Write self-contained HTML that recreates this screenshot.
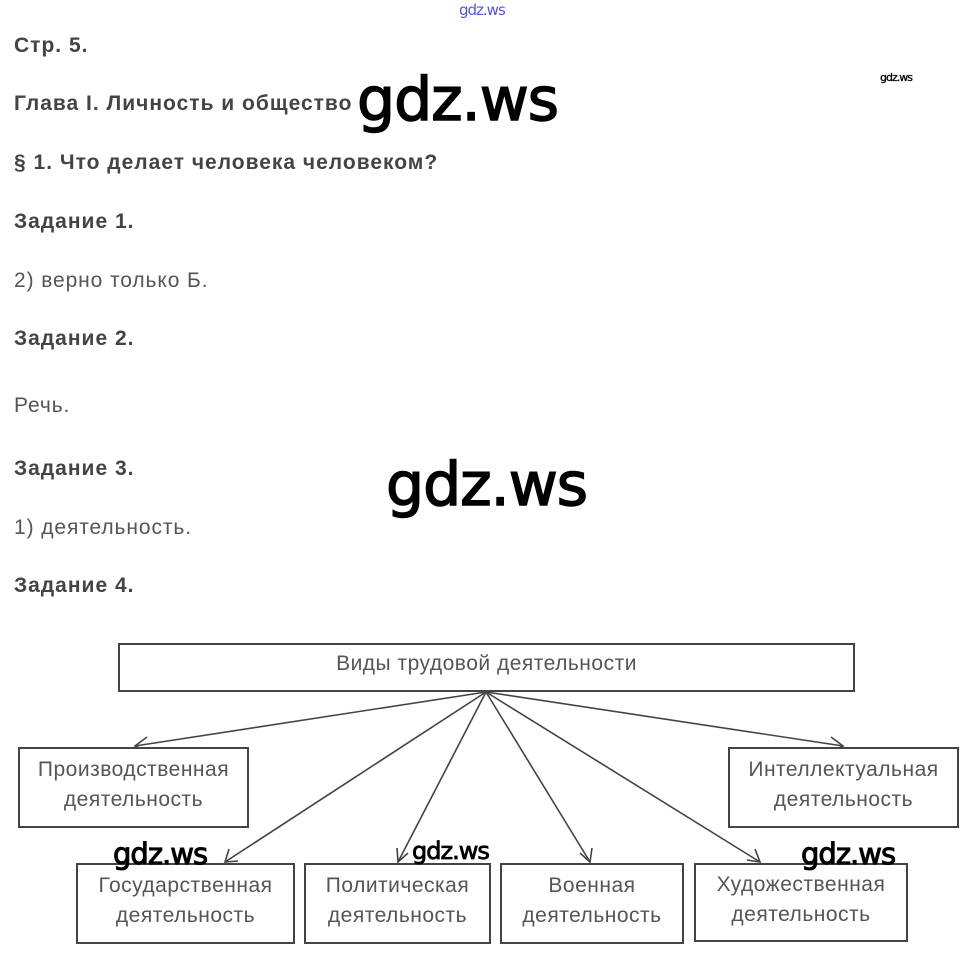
<!DOCTYPE html>
<html><head><meta charset="utf-8"><style>
body{margin:0;width:971px;height:960px;background:#fff;position:relative;overflow:hidden;font-family:"Liberation Sans",sans-serif}
.t{position:absolute;left:14px;font-size:21px;letter-spacing:1px;color:#444;white-space:nowrap;line-height:1}
.b{font-weight:bold}
.n{color:#555;letter-spacing:0.9px}
.wm{position:absolute;font-family:"DejaVu Sans","Liberation Sans",sans-serif;color:#000;line-height:1;white-space:nowrap;letter-spacing:-1px;-webkit-text-stroke:1.5px #000}
.box{position:absolute;border:2px solid #444;box-sizing:border-box;display:flex;align-items:center;justify-content:center;text-align:center;font-size:21px;letter-spacing:0.5px;color:#555;line-height:30px;background:#fff;padding-bottom:5px}
</style></head><body>
<div class="wm" style="left:459px;top:3px;font-size:15px;color:#5555dd;-webkit-text-stroke:0">gdz.ws</div>
<div class="t b" style="top:35px">Стр. 5.</div>
<div class="t b" style="top:93px">Глава I. Личность и общество</div>
<div class="t b" style="top:152px">§ 1. Что делает человека человеком?</div>
<div class="t b" style="top:211px">Задание 1.</div>
<div class="t n" style="top:270px">2) верно только Б.</div>
<div class="t b" style="top:328px">Задание 2.</div>
<div class="t n" style="top:395px">Речь.</div>
<div class="t b" style="top:458px">Задание 3.</div>
<div class="t n" style="top:517px">1) деятельность.</div>
<div class="t b" style="top:575px">Задание 4.</div>
<div class="wm" style="left:880px;top:72px;font-size:11px;-webkit-text-stroke:0.3px #000">gdz.ws</div>
<div class="wm" style="left:357px;top:70px;font-size:60px">gdz.ws</div>
<div class="wm" style="left:386px;top:455px;font-size:60px">gdz.ws</div>

<svg style="position:absolute;left:0;top:0" width="971" height="960">
<g stroke="#444" stroke-width="1.6" fill="none">
<line x1="486" y1="692" x2="135" y2="746"/>
<line x1="486" y1="692" x2="843" y2="746"/>
<line x1="486" y1="692" x2="225" y2="862"/>
<line x1="486" y1="692" x2="398" y2="862"/>
<line x1="486" y1="692" x2="590" y2="862"/>
<line x1="486" y1="692" x2="760" y2="862"/>
<polyline points="147,737 135,746 147,752"/>
<polyline points="831,737 843,746 831,752"/>
<polyline points="229,849 225,862 238,861"/>
<polyline points="397,848 398,862 408,853"/>
<polyline points="580,853 590,862 592,848"/>
<polyline points="747,860 760,862 755,849"/>
</g></svg>
<div class="box" style="left:118px;top:643px;width:737px;height:49px;padding-bottom:8px">Виды трудовой деятельности</div>
<div class="box" style="left:18px;top:747px;width:231px;height:81px">Производственная<br>деятельность</div>
<div class="box" style="left:728px;top:747px;width:231px;height:81px">Интеллектуальная<br>деятельность</div>
<div class="box" style="left:76px;top:863px;width:219px;height:81px">Государственная<br>деятельность</div>
<div class="box" style="left:304px;top:863px;width:187px;height:81px">Политическая<br>деятельность</div>
<div class="box" style="left:500px;top:863px;width:184px;height:81px">Военная<br>деятельность</div>
<div class="box" style="left:694px;top:863px;width:214px;height:79px">Художественная<br>деятельность</div>
<div class="wm" style="left:113px;top:840px;font-size:29px;-webkit-text-stroke:1px #000">gdz.ws</div>
<div class="wm" style="left:412px;top:839px;font-size:24px;-webkit-text-stroke:0.8px #000">gdz.ws</div>
<div class="wm" style="left:801px;top:840px;font-size:29px;-webkit-text-stroke:1px #000">gdz.ws</div>
</body></html>
